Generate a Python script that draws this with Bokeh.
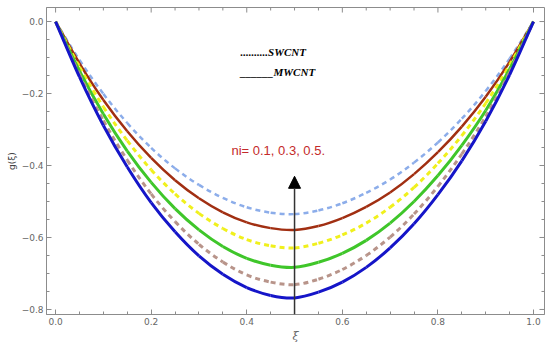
from bokeh.plotting import figure
from bokeh.models import (Range1d, FixedTicker, Label, Arrow, NormalHead)
from bokeh.embed import file_html
from bokeh.resources import INLINE

# ---- data ----
xi = [0.0, 0.05, 0.10, 0.15, 0.20, 0.25, 0.30, 0.35, 0.40, 0.45, 0.50,
      0.55, 0.60, 0.65, 0.70, 0.75, 0.80, 0.85, 0.90, 0.95, 1.0]

swcnt_a = [0, -0.107, -0.201, -0.282, -0.351, -0.408, -0.454, -0.490, -0.516, -0.531, -0.535,
           -0.525, -0.505, -0.476, -0.439, -0.392, -0.336, -0.270, -0.193, -0.103, 0]
mwcnt_a = [0, -0.116, -0.218, -0.305, -0.379, -0.441, -0.491, -0.530, -0.558, -0.574, -0.579,
           -0.568, -0.546, -0.515, -0.475, -0.424, -0.363, -0.292, -0.209, -0.112, 0]
swcnt_b = [0, -0.126, -0.237, -0.331, -0.412, -0.479, -0.533, -0.575, -0.606, -0.623, -0.629,
           -0.616, -0.593, -0.560, -0.516, -0.461, -0.394, -0.317, -0.227, -0.121, 0]
mwcnt_b = [0, -0.137, -0.257, -0.360, -0.447, -0.520, -0.579, -0.625, -0.658, -0.677, -0.683,
           -0.669, -0.644, -0.608, -0.560, -0.500, -0.428, -0.344, -0.247, -0.132, 0]
swcnt_c = [0, -0.147, -0.275, -0.385, -0.479, -0.556, -0.619, -0.668, -0.704, -0.724, -0.731,
           -0.716, -0.689, -0.650, -0.599, -0.535, -0.458, -0.368, -0.264, -0.141, 0]
mwcnt_c = [0, -0.154, -0.289, -0.404, -0.503, -0.584, -0.651, -0.702, -0.739, -0.761, -0.768,
           -0.752, -0.724, -0.683, -0.629, -0.562, -0.481, -0.387, -0.277, -0.148, 0]

x_ticks = [0.0, 0.2, 0.4, 0.6, 0.8, 1.0]
x_tick_labels = ["0.0", "0.2", "0.4", "0.6", "0.8", "1.0"]
x_minor = [0.05, 0.1, 0.15, 0.25, 0.3, 0.35, 0.45, 0.5, 0.55, 0.65, 0.7, 0.75, 0.85, 0.9, 0.95]
y_ticks = [0.0, -0.2, -0.4, -0.6, -0.8]
y_tick_labels = ["0.0", "\u22120.2", "\u22120.4", "\u22120.6", "\u22120.8"]
y_minor = [-0.05, -0.1, -0.15, -0.25, -0.3, -0.35, -0.45, -0.5, -0.55, -0.65, -0.7, -0.75]

legend_swcnt = "..........SWCNT"
legend_mwcnt = "______MWCNT"
param_text = "ni= 0.1, 0.3, 0.5."
x_title = "\u03be"
y_title = "g(\u03be)"

X0, X1 = -0.019, 1.023
Y0, Y1 = -0.814, 0.039

# ---- figure ----
p = figure(width=550, height=351, output_backend="svg", toolbar_location=None,
           x_range=Range1d(X0, X1), y_range=Range1d(Y0, Y1),
           min_border_left=46, min_border_right=6, min_border_top=7, min_border_bottom=37)
p.grid.visible = False
p.outline_line_color = "#8c8c8c"
p.background_fill_color = "white"

axis_color = "#8c8c8c"
label_color = "#666666"

for ax, ticks, minors, labels in ((p.xaxis[0], x_ticks, x_minor, x_tick_labels),
                                  (p.yaxis[0], y_ticks, y_minor, y_tick_labels)):
    ax.ticker = FixedTicker(ticks=ticks, minor_ticks=minors)
    ax.major_label_overrides = {t: l for t, l in zip(ticks, labels)}
    ax.axis_line_color = axis_color
    ax.major_tick_line_color = axis_color
    ax.minor_tick_line_color = axis_color
    ax.major_tick_in = 5
    ax.major_tick_out = 0
    ax.minor_tick_in = 3
    ax.minor_tick_out = 0
    ax.major_label_text_font = "DejaVu Sans"
    ax.major_label_text_font_size = "9px"
    ax.major_label_text_color = label_color

p.xaxis[0].major_label_standoff = 3
p.xaxis[0].axis_label = x_title
p.xaxis[0].axis_label_text_font = "DejaVu Serif"
p.xaxis[0].axis_label_text_font_style = "italic"
p.xaxis[0].axis_label_text_font_size = "11px"
p.xaxis[0].axis_label_text_color = label_color
p.xaxis[0].axis_label_standoff = 2

p.yaxis[0].major_label_standoff = 3
p.yaxis[0].axis_label = y_title
p.yaxis[0].axis_label_text_font = "DejaVu Sans"
p.yaxis[0].axis_label_text_font_style = "normal"
p.yaxis[0].axis_label_text_font_size = "9px"
p.yaxis[0].axis_label_text_color = "#444444"
p.yaxis[0].axis_label_standoff = 2

# mirrored tick marks on the top and right edges of the frame
tick_len_y_major, tick_len_y_minor = 0.014, 0.0083
tick_len_x_major, tick_len_x_minor = 0.0105, 0.0063
p.segment(x0=x_ticks, y0=[Y1] * len(x_ticks), x1=x_ticks,
          y1=[Y1 - tick_len_y_major] * len(x_ticks), line_color=axis_color, line_width=1)
p.segment(x0=x_minor, y0=[Y1] * len(x_minor), x1=x_minor,
          y1=[Y1 - tick_len_y_minor] * len(x_minor), line_color=axis_color, line_width=1)
p.segment(x0=[X1] * len(y_ticks), y0=y_ticks, x1=[X1 - tick_len_x_major] * len(y_ticks),
          y1=y_ticks, line_color=axis_color, line_width=1)
p.segment(x0=[X1] * len(y_minor), y0=y_minor, x1=[X1 - tick_len_x_minor] * len(y_minor),
          y1=y_minor, line_color=axis_color, line_width=1)


def smooth_curve(xs, ys, **kw):
    """Draw a smooth curve through the points with Bokeh's bezier glyph (Catmull-Rom control points)."""
    n = len(xs)
    px = [xs[0]] + list(xs) + [xs[-1]]
    py = [ys[0]] + list(ys) + [ys[-1]]
    x0, y0, x1, y1, cx0, cy0, cx1, cy1 = [], [], [], [], [], [], [], []
    for i in range(1, n):
        x0.append(px[i]); y0.append(py[i])
        x1.append(px[i + 1]); y1.append(py[i + 1])
        cx0.append(px[i] + (px[i + 1] - px[i - 1]) / 6.0)
        cy0.append(py[i] + (py[i + 1] - py[i - 1]) / 6.0)
        cx1.append(px[i + 1] - (px[i + 2] - px[i]) / 6.0)
        cy1.append(py[i + 1] - (py[i + 2] - py[i]) / 6.0)
    p.bezier(x0=x0, y0=y0, x1=x1, y1=y1, cx0=cx0, cy0=cy0, cx1=cx1, cy1=cy1, **kw)


# ---- curves ----
smooth_curve(xi, swcnt_a, line_color="#8cadea", line_width=2.5, line_dash="5 4")
smooth_curve(xi, mwcnt_a, line_color="#a12f12", line_width=2.5)
smooth_curve(xi, swcnt_b, line_color="#f0f01c", line_width=3, line_dash="5 4")
smooth_curve(xi, mwcnt_b, line_color="#3fc62a", line_width=3)
smooth_curve(xi, swcnt_c, line_color="#b8948a", line_width=3, line_dash="5 4")
smooth_curve(xi, mwcnt_c, line_color="#1515c8", line_width=3)

# ---- annotations ----
p.add_layout(Label(x=0.387, y=-0.085, text=legend_swcnt, text_font="Liberation Serif",
                   text_font_style="bold italic", text_font_size="11px",
                   text_color="black", text_baseline="middle"))
p.add_layout(Label(x=0.387, y=-0.141, text=legend_mwcnt, text_font="Liberation Serif",
                   text_font_style="bold italic", text_font_size="11px",
                   text_color="black", text_baseline="middle"))
p.add_layout(Label(x=0.368, y=-0.358, text=param_text, text_font="Liberation Sans",
                   text_font_size="13px", text_color="#c42a2a", text_baseline="middle"))
p.add_layout(Arrow(end=NormalHead(size=12, fill_color="black", line_color="black"),
                   x_start=0.5, y_start=Y0, x_end=0.5, y_end=-0.43,
                   line_color="#333333", line_width=1.5))

open("out.html", "w").write(file_html(p, INLINE))
